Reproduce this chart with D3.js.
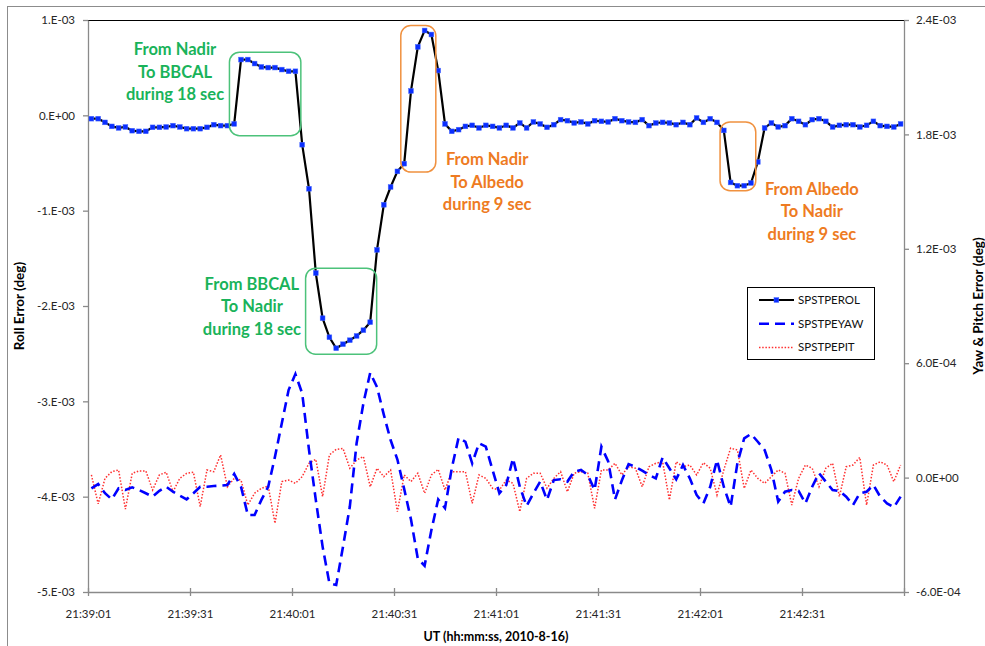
<!DOCTYPE html>
<html><head><meta charset="utf-8">
<script src="https://cdn.jsdelivr.net/npm/d3@7"></script>
<style>
html,body{margin:0;padding:0;background:#fff;}
svg{display:block;font-family:Lato,"Open Sans",sans-serif;}
</style></head>
<body><svg id="chart" width="985" height="646"></svg>
<script>
// ---- DATA ----
// sample times: first sample and sampling step (seconds)
const firstSample = "21:39:02";
const stepSec = 2;
const axisStart = "21:39:01";
const axisEnd = "21:43:01";
const xTickLabels = ["21:39:01","21:39:31","21:40:01","21:40:31","21:41:01","21:41:31","21:42:01","21:42:31"];

const leftTickValues = [1e-3, 0, -1e-3, -2e-3, -3e-3, -4e-3, -5e-3];
const leftTickLabels = ["1.E-03","0.E+00","-1.E-03","-2.E-03","-3.E-03","-4.E-03","-5.E-03"];
const rightTickValues = [2.4e-3, 1.8e-3, 1.2e-3, 6e-4, 0, -6e-4];
const rightTickLabels = ["2.4E-03","1.8E-03","1.2E-03","6.0E-04","0.0E+00","-6.0E-04"];

// SPSTPEROL (deg, left axis)
const roll = [
-0.035e-3,-0.035e-3,-0.074e-3,-0.116e-3,-0.132e-3,-0.122e-3,-0.161e-3,-0.168e-3,-0.168e-3,-0.126e-3,
-0.126e-3,-0.122e-3,-0.108e-3,-0.122e-3,-0.140e-3,-0.140e-3,-0.140e-3,-0.126e-3,-0.098e-3,-0.108e-3,
-0.108e-3,-0.090e-3,0.585e-3,0.585e-3,0.543e-3,0.508e-3,0.501e-3,0.501e-3,0.480e-3,0.462e-3,
0.462e-3,-0.308e-3,-0.770e-3,-1.655e-3,-2.128e-3,-2.328e-3,-2.443e-3,-2.401e-3,-2.359e-3,-2.314e-3,
-2.254e-3,-2.170e-3,-1.411e-3,-0.938e-3,-0.752e-3,-0.588e-3,-0.507e-3,0.256e-3,0.718e-3,0.890e-3,
0.848e-3,0.470e-3,-0.090e-3,-0.168e-3,-0.150e-3,-0.116e-3,-0.105e-3,-0.132e-3,-0.105e-3,-0.116e-3,
-0.132e-3,-0.105e-3,-0.132e-3,-0.080e-3,-0.132e-3,-0.069e-3,-0.090e-3,-0.126e-3,-0.098e-3,-0.045e-3,
-0.056e-3,-0.080e-3,-0.069e-3,-0.090e-3,-0.056e-3,-0.063e-3,-0.069e-3,-0.035e-3,-0.056e-3,-0.069e-3,
-0.074e-3,-0.045e-3,-0.108e-3,-0.080e-3,-0.074e-3,-0.080e-3,-0.098e-3,-0.074e-3,-0.098e-3,-0.027e-3,
-0.074e-3,-0.035e-3,-0.074e-3,-0.158e-3,-0.704e-3,-0.738e-3,-0.738e-3,-0.710e-3,-0.489e-3,-0.132e-3,
-0.080e-3,-0.122e-3,-0.108e-3,-0.035e-3,-0.063e-3,-0.098e-3,-0.045e-3,-0.035e-3,-0.063e-3,-0.122e-3,
-0.105e-3,-0.098e-3,-0.098e-3,-0.122e-3,-0.105e-3,-0.063e-3,-0.108e-3,-0.116e-3,-0.122e-3,-0.090e-3
];
// SPSTPEYAW (deg, right axis)
const yaw = [
-0.56e-4,-0.34e-4,-0.82e-4,-1.14e-4,-0.56e-4,-0.65e-4,-0.51e-4,-0.65e-4,-0.82e-4,-1.00e-4,
-0.69e-4,-0.48e-4,-0.74e-4,-0.95e-4,-1.14e-4,-0.82e-4,-0.48e-4,-0.48e-4,-0.44e-4,-0.42e-4,
-0.39e-4,0.19e-4,-0.48e-4,-1.96e-4,-1.96e-4,-1.17e-4,-0.48e-4,1.10e-4,2.85e-4,4.59e-4,
5.43e-4,4.42e-4,1.45e-4,-1.17e-4,-3.62e-4,-5.54e-4,-5.63e-4,-3.62e-4,-1.53e-4,1.80e-4,
3.90e-4,5.50e-4,4.75e-4,3.30e-4,1.97e-4,0.95e-4,-0.60e-4,-2.20e-4,-4.25e-4,-4.62e-4,
-2.75e-4,-1.15e-4,-1.60e-4,0.50e-4,2.10e-4,1.88e-4,0.75e-4,1.80e-4,1.62e-4,0.40e-4,
-0.82e-4,-0.39e-4,1.01e-4,-0.48e-4,-1.49e-4,-0.82e-4,-0.21e-4,-1.17e-4,-0.13e-4,-0.09e-4,
-0.21e-4,0.31e-4,0.40e-4,0.14e-4,-0.65e-4,1.62e-4,0.85e-4,-1.15e-4,-0.15e-4,0.71e-4,
0.57e-4,0.36e-4,0.14e-4,-0.04e-4,1.06e-4,0.49e-4,-0.09e-4,0.66e-4,-0.04e-4,-0.91e-4,
-1.35e-4,-0.48e-4,0.92e-4,-0.48e-4,-1.53e-4,0.75e-4,2.06e-4,2.29e-4,1.88e-4,1.45e-4,
0.40e-4,-1.26e-4,-0.74e-4,-0.65e-4,-0.70e-4,-1.35e-4,-0.48e-4,0.23e-4,-0.21e-4,-0.65e-4,
-0.70e-4,-1.00e-4,-1.44e-4,-0.82e-4,-0.74e-4,-0.39e-4,-1.00e-4,-1.35e-4,-1.56e-4,-1.00e-4
];
// SPSTPEPIT (deg, right axis)
const pitch = [
0.14e-4,-1.38e-4,-0.04e-4,0.31e-4,0.40e-4,-1.65e-4,0.22e-4,0.35e-4,0.35e-4,-0.65e-4,
0.14e-4,0.28e-4,-0.74e-4,-0.04e-4,0.22e-4,0.28e-4,-1.52e-4,0.40e-4,0.31e-4,1.19e-4,
-0.48e-4,-0.04e-4,-0.13e-4,-1.44e-4,-0.82e-4,-0.56e-4,-0.44e-4,-2.40e-4,-0.21e-4,-0.13e-4,
-0.30e-4,0.05e-4,0.75e-4,0.96e-4,-1.00e-4,1.19e-4,1.48e-4,1.53e-4,0.49e-4,0.92e-4,
1.10e-4,-0.48e-4,0.49e-4,0.05e-4,0.40e-4,-1.79e-4,0.14e-4,-0.21e-4,0.23e-4,-0.82e-4,
0.14e-4,0.43e-4,-0.65e-4,0.31e-4,0.31e-4,0.31e-4,-1.35e-4,0.14e-4,-0.04e-4,-0.56e-4,
-0.65e-4,-0.13e-4,-0.30e-4,-1.79e-4,-0.04e-4,0.23e-4,0.23e-4,-0.56e-4,-0.04e-4,0.31e-4,
-0.74e-4,0.23e-4,0.31e-4,0.23e-4,-1.61e-4,0.40e-4,0.40e-4,0.75e-4,0.14e-4,0.57e-4,
0.49e-4,-0.48e-4,0.57e-4,0.75e-4,0.83e-4,-1.17e-4,0.83e-4,0.57e-4,0.66e-4,0.14e-4,
0.78e-4,0.49e-4,-0.91e-4,0.40e-4,1.54e-4,1.45e-4,-0.56e-4,0.40e-4,-0.04e-4,-0.30e-4,
0.05e-4,0.40e-4,0.23e-4,-1.44e-4,-0.04e-4,0.66e-4,0.49e-4,-0.48e-4,0.49e-4,0.75e-4,
-1.00e-4,0.57e-4,0.66e-4,1.06e-4,-1.44e-4,0.66e-4,0.83e-4,0.66e-4,-0.21e-4,0.66e-4
];

// annotations: boxes in (seconds after axis start, roll value) space
const boxes = [
  {t0:41.6, t1:62.6, v0:0.662e-3, v1:-0.213e-3, color:"#4CC27A"},
  {t0:64.0, t1:84.9, v0:-1.603e-3, v1:-2.506e-3, color:"#4CC27A"},
  {t0:92.0, t1:102.3, v0:0.942e-3, v1:-0.595e-3, color:"#F0913F"},
  {t0:185.9, t1:196.4, v0:-0.069e-3, v1:-0.791e-3, color:"#F0913F"}
];
const notes = [
  {t:25.6, v:0.69e-3, lines:["From Nadir","To BBCAL","during 18 sec"], color:"#19B35A"},
  {t:48.2, v:-1.768e-3, lines:["From BBCAL","To Nadir","during 18 sec"], color:"#19B35A"},
  {t:117.4, v:-0.465e-3, lines:["From Nadir","To Albedo","during 9 sec"], color:"#EE7B22"},
  {t:212.9, v:-0.773e-3, lines:["From Albedo","To Nadir","during 9 sec"], color:"#EE7B22"}
];

// ---- CHART ----
const svg = d3.select("#chart");
const m = {left:88, right:904, top:20, bottom:592};
const parse = d3.timeParse("%H:%M:%S");
const tStart = parse(axisStart), tEnd = parse(axisEnd), tFirst = parse(firstSample);
const times = roll.map((_, i) => d3.timeSecond.offset(tFirst, i * stepSec));

const x = d3.scaleTime().domain([tStart, tEnd]).range([m.left, m.right]);
const yL = d3.scaleLinear().domain([-5e-3, 1e-3]).range([m.bottom, m.top]);
const yR = d3.scaleLinear().domain([-6e-4, 2.4e-3]).range([m.bottom, m.top]);
const sec = s => d3.timeMillisecond.offset(tStart, s * 1000);

// chart area border
svg.append("rect").attr("x", 7.5).attr("y", 6.5).attr("width", 990).attr("height", 660)
  .attr("fill", "none").attr("stroke", "#8c8c8c").attr("stroke-width", 1);

// top plot border
svg.append("line").attr("x1", m.left).attr("x2", m.right).attr("y1", m.top + 0.5).attr("y2", m.top + 0.5)
  .attr("stroke", "#000").attr("stroke-width", 1.2);

const axisColor = "#8a8a8a";
const styleAxis = g => {
  g.select(".domain").attr("stroke", axisColor).attr("stroke-width", 1.3);
  g.selectAll(".tick line").attr("stroke", axisColor).attr("stroke-width", 1.3);
  g.selectAll(".tick text").attr("fill", "#262626").style("font-size", "11.5px").style("font-family", "Lato, sans-serif");
};

// left axis
svg.append("g").attr("transform", `translate(${m.left},0)`)
  .call(d3.axisLeft(yL).tickValues(leftTickValues).tickFormat((d, i) => leftTickLabels[i]).tickSizeInner(5).tickSizeOuter(0).tickPadding(8))
  .call(styleAxis);
// right axis
svg.append("g").attr("transform", `translate(${m.right},0)`)
  .call(d3.axisRight(yR).tickValues(rightTickValues).tickFormat((d, i) => rightTickLabels[i]).tickSizeInner(5).tickSizeOuter(0).tickPadding(7))
  .call(styleAxis);
// bottom axis
const xTicks = xTickLabels.map(parse).concat([tEnd]);
const gx = svg.append("g").attr("transform", `translate(0,${m.bottom})`)
  .call(d3.axisBottom(x).tickValues(xTicks).tickFormat((d, i) => xTickLabels[i] || "").tickSizeInner(4).tickSizeOuter(0).tickPadding(14))
  .call(styleAxis);
gx.selectAll(".tick line").attr("y1", -4).attr("y2", 4);

// axis titles
svg.append("text").attr("transform", `translate(24,${(m.top + m.bottom) / 2}) rotate(-90)`)
  .attr("text-anchor", "middle").style("font-weight", "bold").style("font-size", "13.5px").attr("fill", "#000")
  .text("Roll Error (deg)");
svg.append("text").attr("transform", `translate(983,${(m.top + m.bottom) / 2}) rotate(-90)`)
  .attr("text-anchor", "middle").style("font-weight", "bold").style("font-size", "13.5px").attr("fill", "#000")
  .text("Yaw & Pitch Error (deg)");
svg.append("text").attr("x", (m.left + m.right) / 2).attr("y", 641)
  .attr("text-anchor", "middle").style("font-weight", "bold").style("font-size", "12.5px").attr("fill", "#000")
  .text("UT (hh:mm:ss, 2010-8-16)");

// series
const plot = svg.append("g");
const lineR = d3.line().x((d, i) => x(times[i])).y(d => yR(d));
const lineL = d3.line().x((d, i) => x(times[i])).y(d => yL(d));
plot.append("path").datum(pitch).attr("d", lineR).attr("fill", "none")
  .attr("stroke", "#FF3030").attr("stroke-width", 1.5).attr("stroke-dasharray", "1.5,1.7");
plot.append("path").datum(yaw).attr("d", lineR).attr("fill", "none")
  .attr("stroke", "#0000FF").attr("stroke-width", 2.6).attr("stroke-dasharray", "10,6");
plot.append("path").datum(roll).attr("d", lineL).attr("fill", "none")
  .attr("stroke", "#000").attr("stroke-width", 2.2);
plot.selectAll("rect.mk").data(roll).join("rect").attr("class", "mk")
  .attr("x", (d, i) => x(times[i]) - 2.4).attr("y", d => yL(d) - 2.4)
  .attr("width", 4.8).attr("height", 4.8).attr("fill", "#0A2EFF").attr("stroke", "#4A6BFF").attr("stroke-width", 0.5);

// annotation boxes
svg.selectAll("rect.box").data(boxes).join("rect").attr("class", "box")
  .attr("x", d => x(sec(d.t0))).attr("y", d => yL(d.v0))
  .attr("width", d => x(sec(d.t1)) - x(sec(d.t0))).attr("height", d => yL(d.v1) - yL(d.v0))
  .attr("rx", 10).attr("ry", 10).attr("fill", "none").attr("stroke", d => d.color).attr("stroke-width", 1.5);

// annotation texts
notes.forEach(n => {
  const t = svg.append("text").attr("text-anchor", "middle").attr("fill", n.color)
    .style("font-weight", "bold").style("font-size", "16.5px").style("font-family", "Lato, sans-serif");
  n.lines.forEach((l, k) => {
    t.append("tspan").attr("x", x(sec(n.t))).attr("y", yL(n.v) + k * 22.5).attr("dy", "0.35em").text(l);
  });
});

// legend
const lg = svg.append("g").attr("transform", "translate(747,287)");
lg.append("rect").attr("x", 0.5).attr("y", 0.5).attr("width", 127).attr("height", 72)
  .attr("fill", "#fff").attr("stroke", "#000").attr("stroke-width", 1);
const items = [
  {name:"SPSTPEROL", color:"#000", w:2.2, dash:null, marker:true},
  {name:"SPSTPEYAW", color:"#0000FF", w:2.6, dash:"10,6", marker:false},
  {name:"SPSTPEPIT", color:"#FF3030", w:1.5, dash:"1.5,1.7", marker:false}
];
items.forEach((it, k) => {
  const yy = 13 + k * 23.7;
  lg.append("line").attr("x1", 12).attr("x2", 47).attr("y1", yy).attr("y2", yy)
    .attr("stroke", it.color).attr("stroke-width", it.w).attr("stroke-dasharray", it.dash);
  if (it.marker) lg.append("rect").attr("x", 27).attr("y", yy - 2.4).attr("width", 4.8).attr("height", 4.8)
    .attr("fill", "#0A2EFF").attr("stroke", "#4A6BFF").attr("stroke-width", 0.5);
  lg.append("text").attr("x", 51).attr("y", yy).attr("dy", "0.35em").style("font-size", "11.5px")
    .attr("fill", "#111").text(it.name);
});
</script></body></html>
